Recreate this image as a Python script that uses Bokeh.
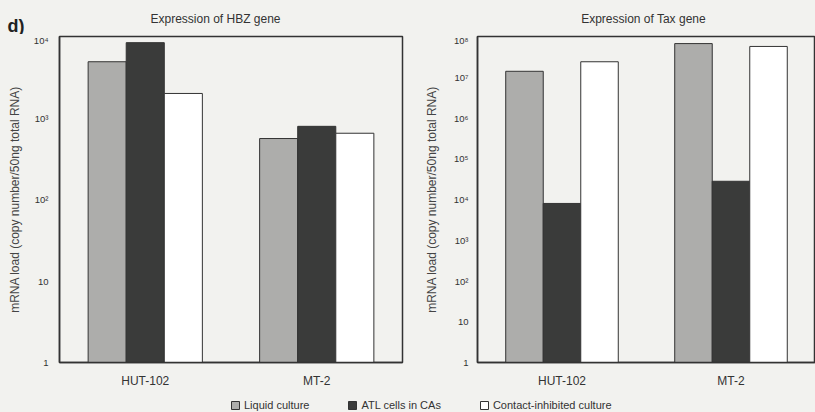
from bokeh.plotting import figure
from bokeh.models import (FactorRange, FixedTicker, CustomJSTickFormatter, Label,
                          Legend, LegendItem, ColumnDataSource, Range1d)
from bokeh.transform import dodge
from bokeh.layouts import column, row
from bokeh.embed import file_html
from bokeh.resources import INLINE

categories = ["HUT-102", "MT-2"]
series = ["Liquid culture", "ATL cells in CAs", "Contact-inhibited culture"]
titles = ["Expression of HBZ gene", "Expression of Tax gene"]
panel_tag = "d)"

hbz_liquid = [4900, 560]
hbz_atl = [8400, 790]
hbz_contact = [2000, 650]

tax_liquid = [1.4e7, 6.7e7]
tax_atl = [8000, 2.8e4]
tax_contact = [2.4e7, 5.7e7]

hbz_ticks = [1, 10, 100, 1000, 10000]
tax_ticks = [1, 10, 100, 1e3, 1e4, 1e5, 1e6, 1e7, 1e8]

BG = "#f2f2ef"
GRAY = "#adadab"
DARK = "#3a3b3a"
WHITE = "#ffffff"
LINE = "#333333"
FONT = "Liberation Sans"
colors = [GRAY, DARK, WHITE]

fmt = CustomJSTickFormatter(code="""
const e = Math.round(Math.log10(tick));
const sup = ['\u2070','\u00b9','\u00b2','\u00b3','\u2074','\u2075','\u2076','\u2077','\u2078'];
if (e == 0) return '1';
if (e == 1) return '10';
return '10' + sup[e];
""")

BW = 0.222
HEADER_H = 34


def make_panel(vals, ticks, ymax, width, height, bl, br, bt, bb):
    p = figure(x_range=FactorRange(*categories, range_padding=0), y_axis_type="log",
               y_range=Range1d(1, ymax), width=width, height=height,
               output_backend="svg", toolbar_location=None,
               min_border_left=bl, min_border_right=br, min_border_top=bt,
               min_border_bottom=bb, background_fill_color=BG, border_fill_color=BG)
    src = ColumnDataSource(dict(cat=categories, a=vals[0], b=vals[1], c=vals[2]))
    for off, key, col in zip([-BW, 0, BW], ["a", "b", "c"], colors):
        p.vbar(x=dodge("cat", off, range=p.x_range), top=key, bottom=1, width=BW,
               source=src, fill_color=col, line_color=LINE, line_width=1)
    p.xgrid.visible = False
    p.ygrid.visible = False
    p.outline_line_color = LINE
    p.outline_line_width = 1.5
    p.yaxis.ticker = FixedTicker(ticks=ticks, minor_ticks=[])
    p.yaxis.formatter = fmt
    p.yaxis.axis_label = "mRNA load (copy number/50ng total RNA)"
    p.yaxis.axis_label_text_font = FONT
    p.yaxis.axis_label_text_font_size = "12px"
    p.yaxis.axis_label_text_font_style = "normal"
    p.yaxis.axis_label_text_color = "#444444"
    for ax in (p.xaxis, p.yaxis):
        ax.major_tick_line_color = None
        ax.minor_tick_line_color = None
        ax.major_tick_out = 0
        ax.major_tick_in = 0
        ax.minor_tick_out = 0
        ax.minor_tick_in = 0
        ax.axis_line_color = LINE
        ax.axis_line_width = 1.5
        ax.major_label_text_font = FONT
        ax.major_label_text_color = "#333333"
    p.yaxis.major_label_text_font_size = "9.5px"
    p.xaxis.major_label_text_font_size = "12px"
    p.xaxis.major_label_standoff = 11
    return p


# header strip holding the panel tag and the two panel titles
header = figure(width=815, height=HEADER_H, output_backend="svg", toolbar_location=None,
                min_border_left=0, min_border_right=0, min_border_top=0, min_border_bottom=0,
                background_fill_color=BG, border_fill_color=BG, outline_line_color=None,
                x_range=Range1d(0, 815), y_range=Range1d(HEADER_H, 0))
header.axis.visible = False
header.grid.visible = False
header.add_layout(Label(x=7, y=25, text=panel_tag, text_font=FONT, text_font_size="18px",
                        text_font_style="bold", text_color="#222222",
                        text_baseline="middle", text_align="left"))
for tx, t in zip([215, 643], titles):
    header.add_layout(Label(x=tx, y=18, text=t, text_font=FONT, text_font_size="12px",
                            text_color="#333333", text_baseline="middle",
                            text_align="center"))

PH = 390 - HEADER_H
left = make_panel([hbz_liquid, hbz_atl, hbz_contact], hbz_ticks, 1e4,
                  405, PH, 59, 3, 2, PH - 329)
left.yaxis.major_label_standoff = 11
left.yaxis.axis_label_standoff = 9

right = make_panel([tax_liquid, tax_atl, tax_contact], tax_ticks, 1e8,
                   410, PH, 72, 0, 1, PH - 328)
right.yaxis.major_label_standoff = 9
right.yaxis.axis_label_standoff = 12

leg = figure(width=815, height=22, output_backend="svg", toolbar_location=None,
             min_border_left=0, min_border_right=0, min_border_top=0, min_border_bottom=0,
             background_fill_color=BG, border_fill_color=BG, outline_line_color=None,
             x_range=Range1d(0, 1), y_range=Range1d(0, 1))
leg.axis.visible = False
leg.grid.visible = False
items = []
for name, col in zip(series, colors):
    # legend-only renderers, kept outside the visible range of this strip
    r = leg.vbar(x=[5], top=[5], bottom=[4], width=0.1, fill_color=col,
                 line_color=LINE, line_width=1)
    items.append(LegendItem(label=name, renderers=[r]))
legend = Legend(items=items, orientation="horizontal", location=(230, 1),
                background_fill_alpha=0, border_line_color=None,
                glyph_width=10, glyph_height=10, label_standoff=4, spacing=38,
                padding=5, margin=0, label_text_font=FONT, label_text_font_size="11px",
                label_text_color="#333333", label_height=10)
leg.add_layout(legend, "center")

layout = column(header, row(left, right), leg, spacing=0)
layout.styles = {"background-color": BG}

open("out.html", "w").write(file_html(layout, INLINE))
